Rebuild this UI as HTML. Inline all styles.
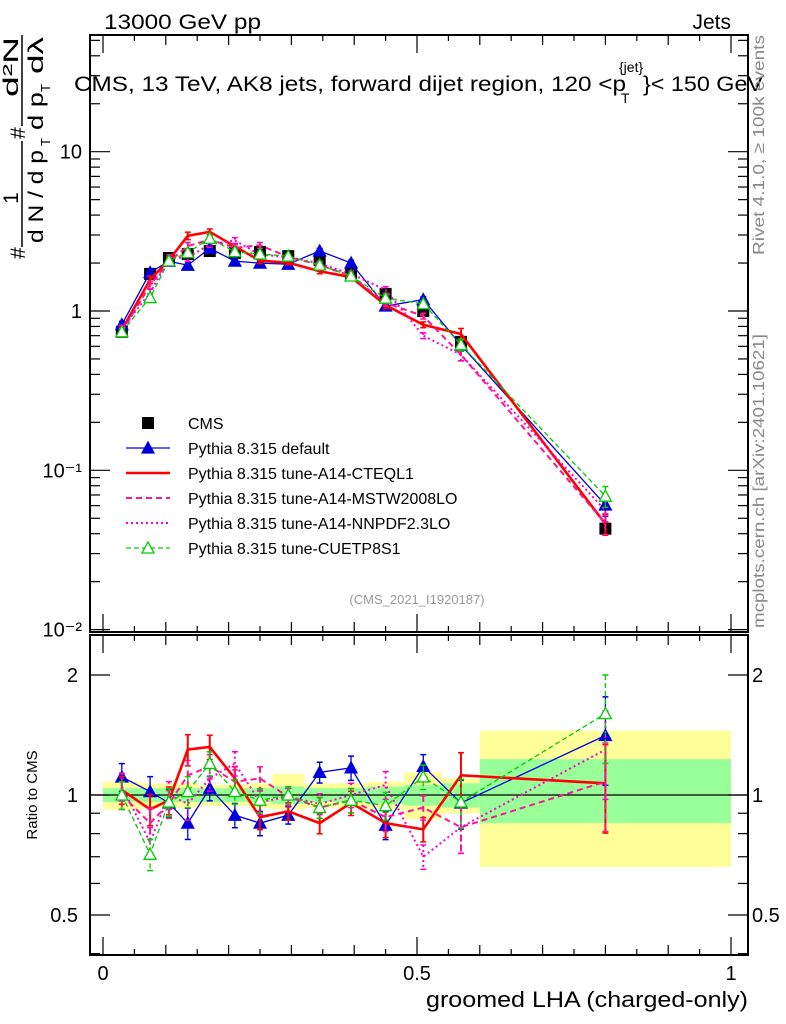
<!DOCTYPE html>
<html><head><meta charset="utf-8"><style>
body{margin:0;background:#fff}
svg{display:block;font-family:"Liberation Sans",sans-serif}
</style></head><body>
<svg id="chart" width="786" height="1024" viewBox="0 0 786 1024" xmlns="http://www.w3.org/2000/svg">
<text x="104" y="29" font-size="21" textLength="157" lengthAdjust="spacingAndGlyphs">13000 GeV pp</text>
<text x="731" y="29" font-size="21" text-anchor="end">Jets</text>
<g id="main"></g>
<g id="ratio"></g>
<g font-size="21">
<text x="74" y="91" textLength="552" lengthAdjust="spacingAndGlyphs">CMS, 13 TeV, AK8 jets, forward dijet region, 120 &lt;p</text>
<text x="621" y="103" font-size="14">T</text>
<text x="619" y="72" font-size="14">{jet}</text>
<text x="643" y="91" textLength="120" lengthAdjust="spacingAndGlyphs">}&lt; 150 GeV</text>
</g>
<g font-size="21">
<text transform="translate(25,253) rotate(-90)" text-anchor="middle">#</text>
<line x1="22" y1="247" x2="22" y2="141" stroke="#000" stroke-width="1.5"/>
<text transform="translate(18,198) rotate(-90)" text-anchor="middle">1</text>
<text transform="translate(43,243) rotate(-90)" textLength="93" lengthAdjust="spacingAndGlyphs">d N / d p</text>
<text transform="translate(50,146) rotate(-90)" font-size="13">T</text>
<text transform="translate(25,133) rotate(-90)" text-anchor="middle">#</text>
<line x1="22" y1="126" x2="22" y2="35" stroke="#000" stroke-width="1.5"/>
<text transform="translate(18,97) rotate(-90)" textLength="60" lengthAdjust="spacingAndGlyphs">d²N</text>
<text transform="translate(43,130) rotate(-90)" textLength="38" lengthAdjust="spacingAndGlyphs">d p</text>
<text transform="translate(50,92) rotate(-90)" font-size="13">T</text>
<text transform="translate(43,74) rotate(-90)" textLength="37" lengthAdjust="spacingAndGlyphs">dλ</text>
</g>
<text transform="translate(764,255) rotate(-90)" font-size="16" fill="#888" textLength="220" lengthAdjust="spacingAndGlyphs">Rivet 4.1.0, ≥ 100k events</text>
<text transform="translate(764,628) rotate(-90)" font-size="16" fill="#888" textLength="294" lengthAdjust="spacingAndGlyphs">mcplots.cern.ch [arXiv:2401.10621]</text>
<text x="417" y="604" font-size="13" fill="#999" text-anchor="middle">(CMS_2021_I1920187)</text>
<text transform="translate(37,795) rotate(-90)" font-size="15" text-anchor="middle">Ratio to CMS</text>
<text x="748" y="1007" font-size="22" text-anchor="end" textLength="322" lengthAdjust="spacingAndGlyphs">groomed LHA (charged-only)</text>
</svg>
<script>
const centers=[0.03,0.075,0.105,0.135,0.17,0.21,0.25,0.295,0.345,0.395,0.45,0.51,0.57,0.8];
const edges=[0,0.06,0.09,0.12,0.15,0.19,0.23,0.27,0.32,0.37,0.42,0.48,0.54,0.6,1.0];
const cms=[0.74,1.71,2.15,2.28,2.38,2.31,2.35,2.21,2.09,1.71,1.28,1.0,0.64,0.043];
const bandGreenLo=[0.96,0.96,0.96,0.96,0.96,0.96,0.96,0.95,0.96,0.96,0.95,0.94,0.93,0.85];
const bandGreenHi=[1.04,1.04,1.04,1.04,1.04,1.04,1.04,1.05,1.04,1.04,1.05,1.06,1.07,1.23];
const bandYellowLo=[0.92,0.93,0.93,0.93,0.94,0.94,0.93,0.92,0.93,0.93,0.92,0.87,0.9,0.66];
const bandYellowHi=[1.08,1.07,1.07,1.07,1.06,1.06,1.07,1.13,1.07,1.07,1.08,1.14,1.1,1.45];
const rDefault=[1.11,1.02,0.955,0.85,1.04,0.89,0.85,0.89,1.14,1.17,0.84,1.18,0.955,1.41];
const rCTEQ=[1.03,0.92,0.97,1.30,1.32,1.10,0.88,0.91,0.85,0.955,0.85,0.82,1.12,1.07];
const rMSTW=[1.0,0.85,0.95,1.12,1.18,1.08,1.1,0.99,0.93,0.97,0.88,0.93,0.83,1.08];
const rNNPDF=[1.05,0.76,1.0,0.95,1.1,1.2,0.96,0.99,0.95,1.0,1.06,0.7,0.83,1.3];
const rCUETP=[1.0,0.71,0.96,1.02,1.20,1.02,0.97,1.0,0.93,0.97,0.94,1.11,0.96,1.6];
const errRel=[0.08,0.09,0.08,0.09,0.07,0.07,0.07,0.05,0.06,0.07,0.08,0.07,0.14,0.25];
const legendLabels=["CMS","Pythia 8.315 default","Pythia 8.315 tune-A14-CTEQL1","Pythia 8.315 tune-A14-MSTW2008LO","Pythia 8.315 tune-A14-NNPDF2.3LO","Pythia 8.315 tune-CUETP8S1"];

const NS="http://www.w3.org/2000/svg";
const L=90,R=748,MT=35,MB=632,RT=635,RB=955;
const X=v=>103+v*628;
const Y=v=>311-Math.log10(v)*159.3;
const YR=v=>795-Math.log10(v)/Math.log10(2)*120;
function mk(p,tag,a){const e=document.createElementNS(NS,tag);for(const k in a)e.setAttribute(k,a[k]);p.appendChild(e);return e;}
const main=document.getElementById('main'),ratio=document.getElementById('ratio');

for(let i=0;i<centers.length;i++){
  const y=mk(ratio,'rect',{x:X(edges[i]),y:YR(bandYellowHi[i]),width:X(edges[i+1])-X(edges[i]),height:YR(bandYellowLo[i])-YR(bandYellowHi[i]),fill:'#ffff99'});
  
  
  const g=mk(ratio,'rect',{x:X(edges[i]),y:YR(bandGreenHi[i]),width:X(edges[i+1])-X(edges[i]),height:YR(bandGreenLo[i])-YR(bandGreenHi[i]),fill:'#99ff99'});
  
  
}
const one=mk(ratio,'line',{x1:L,x2:R,y1:YR(1),y2:YR(1),stroke:'#000','stroke-width':1.2});



const series=[
 {name:'default',r:rDefault,c:'#0000dd',w:1.3,d:'',m:'triF'},
 {name:'cteql1',r:rCTEQ,c:'#ff0000',w:2.6,d:'',m:'none'},
 {name:'mstw',r:rMSTW,c:'#ff1493',w:2,d:'6,4',m:'none'},
 {name:'nnpdf',r:rNNPDF,c:'#ff00cc',w:2,d:'2,3',m:'none'},
 {name:'cuetp8s1',r:rCUETP,c:'#00cc00',w:1.3,d:'5,3',m:'triO'}
];
function marker(p,type,x,y,c){
  if(type==='triF'||type==='triO'){
    const t=mk(p,'polygon',{points:`${x},${y-6} ${x-6},${y+5} ${x+6},${y+5}`,fill:type==='triF'?c:'#fff',stroke:c,'stroke-width':1.3});
    
    
  }
}
function drawSeries(p,vals,Yf,errs,s,key){
  const pts=vals.map((v,i)=>X(centers[i])+','+Yf(v)).join(' ');
  const pl=mk(p,'polyline',{points:pts,fill:'none',stroke:s.c,'stroke-width':s.w,'stroke-dasharray':s.d});
  
  
  vals.forEach((v,i)=>{
    const x=X(centers[i]);
    const e=mk(p,'line',{x1:x,x2:x,y1:Yf(v*(1+errs[i])),y2:Yf(v*(1-errs[i])),stroke:s.c,'stroke-width':Math.min(s.w,2),'stroke-dasharray':s.d});
    
    
    mk(p,'line',{x1:x-3,x2:x+3,y1:Yf(v*(1+errs[i])),y2:Yf(v*(1+errs[i])),stroke:s.c,'stroke-width':1.5});
    mk(p,'line',{x1:x-3,x2:x+3,y1:Yf(v*(1-errs[i])),y2:Yf(v*(1-errs[i])),stroke:s.c,'stroke-width':1.5});
    marker(p,s.m,x,Yf(v),s.c);
  });
}
cms.forEach((v,i)=>{
  const x=X(centers[i]);
  const q=mk(main,'rect',{x:x-6,y:Y(v)-6,width:12,height:12,fill:'#000'});
  
  
});
series.forEach(s=>{
  drawSeries(main,s.r.map((r,i)=>r*cms[i]),Y,errRel.map(e=>e*0.6),s,'main');
  drawSeries(ratio,s.r,YR,errRel,s,'ratio');
});

[[MT,MB],[RT,RB]].forEach(([t,b],k)=>{
  const f=mk(k?ratio:main,'rect',{x:L,y:t,width:R-L,height:b-t,fill:'none',stroke:'#000','stroke-width':2});
  
  
  for(let v=0;v<=1.0001;v+=0.05){
    const maj=Math.abs(v*2-Math.round(v*2))<1e-6, med=Math.abs(v*10-Math.round(v*10))<1e-6;
    const len=maj?18:(med?10:6);
    mk(main,'line',{x1:X(v),x2:X(v),y1:b,y2:b-len,stroke:'#000','stroke-width':1.2});
    mk(main,'line',{x1:X(v),x2:X(v),y1:t,y2:t+len,stroke:'#000','stroke-width':1.2});
  }
});
for(let d=-2;d<=1;d++){for(let m=1;m<10;m++){const v=m*Math.pow(10,d),y=Y(v);if(y<MT||y>MB)continue;const len=m===1?20:10;
 mk(main,'line',{x1:L,x2:L+len,y1:y,y2:y,stroke:'#000','stroke-width':1.2});mk(main,'line',{x1:R,x2:R-len,y1:y,y2:y,stroke:'#000','stroke-width':1.2});}}
const mainTicks=[[10,'10'],[1,'1'],[0.1,'10⁻¹'],[0.01,'10⁻²']];
mainTicks.forEach(([v,t])=>{const e=mk(main,'text',{x:82,y:Y(v)+7,'font-size':20,'text-anchor':'end'});e.textContent=t;
 
 });
[0.4,0.5,0.6,0.7,0.8,0.9,1,2].forEach(v=>{const y=YR(v);const len=(v===0.5||v===1||v===2)?20:10;
 mk(ratio,'line',{x1:L,x2:L+len,y1:y,y2:y,stroke:'#000','stroke-width':1.2});mk(ratio,'line',{x1:R,x2:R-len,y1:y,y2:y,stroke:'#000','stroke-width':1.2});});
[[2,'2'],[1,'1'],[0.5,'0.5']].forEach(([v,t])=>{
 const a=mk(ratio,'text',{x:78,y:YR(v)+7,'font-size':20,'text-anchor':'end'});a.textContent=t;
 
 
 const b=mk(ratio,'text',{x:752,y:YR(v)+7,'font-size':20});b.textContent=t;
 
 });
[[0,'0'],[0.5,'0.5'],[1,'1']].forEach(([v,t])=>{const e=mk(ratio,'text',{x:X(v),y:980,'font-size':20,'text-anchor':'middle'});e.textContent=t;
 
 });
legendLabels.forEach((lab,i)=>{
  const y=423+i*25;
  if(i===0){const q=mk(main,'rect',{x:142,y:y-6,width:12,height:12,fill:'#000'});
    
    }
  else{const s=series[i-1];
    const l=mk(main,'line',{x1:126,x2:170,y1:y,y2:y,stroke:s.c,'stroke-width':s.w,'stroke-dasharray':s.d});
    
    
    marker(main,s.m,148,y,s.c);}
  const t=mk(main,'text',{x:188,y:y+6,'font-size':16});t.textContent=lab;
  
  
});
</script>
</body></html>
